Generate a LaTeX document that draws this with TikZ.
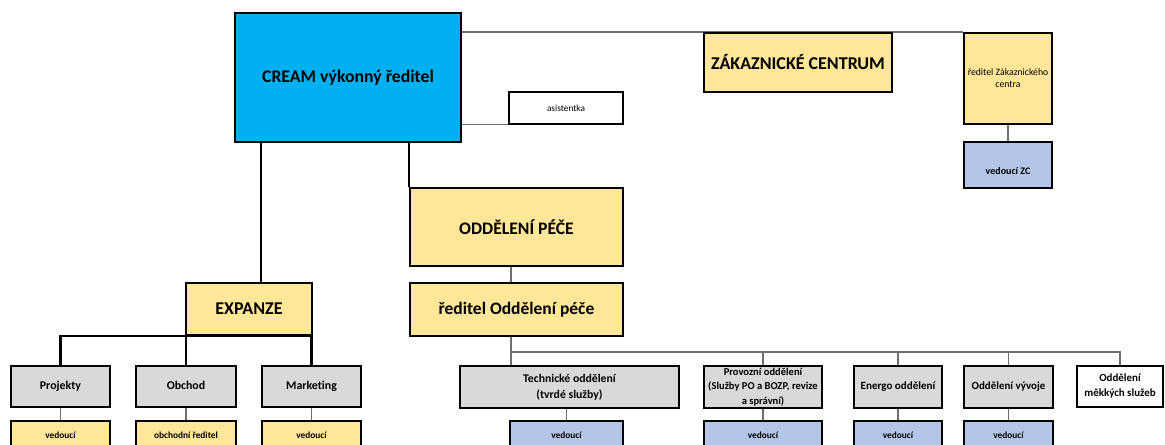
\documentclass[tikz,border=0pt]{standalone}
\usepackage{fontspec}
\setmainfont{Carlito}[Ligatures=NoCommon]
\usetikzlibrary{backgrounds}
\definecolor{cblue}{HTML}{00B0F0}
\definecolor{cyel}{HTML}{FFE699}
\definecolor{cgray}{HTML}{D9D9D9}
\definecolor{cltb}{HTML}{B4C6E7}
\definecolor{lgray}{HTML}{6E6E6E}
\tikzset{
  box/.style={draw=black, line width=1.5pt, inner sep=0pt, align=center},
  sz/.style 2 args={minimum width={#1*0.75pt}, minimum height={#2*0.75pt}},
  fb/.style 2 args={font=\fontsize{#1}{#2}\selectfont\bfseries},
  fr/.style 2 args={font=\fontsize{#1}{#2}\selectfont},
  blk/.style={draw=black, line width=1.6pt},
  gry/.style={draw=lgray, line width=0.9pt},
  even/.style={text height=6.4pt, text depth=1.9pt},
}
\begin{document}
\begin{tikzpicture}[x=0.75pt, y=-0.75pt]
\useasboundingbox (0,0) rectangle (1165,445);
\clip (0,0) rectangle (1165,445);
% top level
\node[box, fill=cblue, sz={226}{129}, fb={13.3pt}{16pt}] (cream) at (348,77.5) {CREAM výkonný ředitel};
\node[box, line width=1.2pt, fill=white, sz={114}{32}, fr={7pt}{8.5pt}] (asist) at (566,108) {asistentka};
\node[box, fill=cyel, sz={188}{59}, fb={13.5pt}{16pt}] (zc) at (798,62.5) {ZÁKAZNICKÉ CENTRUM};
\node[box, fill=cyel, sz={88}{91}, fr={7.3pt}{9pt}] (redzc) at (1008,78.5) {ředitel Zákaznického\\centra};
\node[box, fill=cltb, sz={88}{46}, fb={7.5pt}{9pt}] (vedzc) at (1008,165) {\raisebox{-7.5pt}[0pt][0pt]{vedoucí ZC}};
% care department
\node[box, fill=cyel, sz={213}{78}, fb={13.2pt}{15pt}] (pece) at (516.5,227) {ODDĚLENÍ PÉČE};
\node[box, fill=cyel, sz={213}{53}, fb={13.1pt}{15pt}] (redpece) at (516.5,309.5) {ředitel Oddělení péče};
% expansion
\node[box, fill=cyel, sz={126}{52}, fb={13.5pt}{16pt}] (expanze) at (249,309) {EXPANZE};
\node[box, fill=cgray, sz={99}{41}, fb={8.9pt}{11pt}, even] (projekty) at (60.5,386.5) {Projekty};
\node[box, fill=cgray, sz={100}{41}, fb={8.9pt}{11pt}, even] (obchod) at (186,386.5) {Obchod};
\node[box, fill=cgray, sz={99}{41}, fb={8.9pt}{11pt}, even] (marketing) at (311.5,386.5) {Marketing};
\node[box, fill=cyel, sz={99}{28}, fb={7pt}{9pt}] (ved1) at (60.5,435) {vedoucí};
\node[box, fill=cyel, sz={100}{28}, fb={7pt}{9pt}] (ved2) at (186,435) {obchodní ředitel};
\node[box, fill=cyel, sz={99}{28}, fb={7pt}{9pt}] (ved3) at (311.5,435) {vedoucí};
% departments
\node[box, fill=cgray, sz={219}{42}, fb={8.8pt}{12pt}] (technicke) at (569.5,387) {Technické oddělení\\(tvrdé služby)};
\node[box, fill=cgray, sz={118}{42}, fb={7.9pt}{10.9pt}] (provozni) at (763,387) {Provozní oddělení\\(Služby PO a BOZP, revize\\a správní)};
\node[box, fill=cgray, sz={88}{42}, fb={8.3pt}{11pt}, even] (energo) at (898,387) {Energo oddělení};
\node[box, fill=cgray, sz={89}{42}, fb={8.2pt}{11pt}, even] (vyvoj) at (1008.5,387) {Oddělení vývoje};
\node[box, fill=white, sz={86}{41}, fb={8.2pt}{11.25pt}] (mekke) at (1120,386.5) {Oddělení\\měkkých služeb};
\node[box, fill=cltb, sz={113}{28}, fb={7pt}{9pt}] (vedT) at (566.5,435) {vedoucí};
\node[box, fill=cltb, sz={118}{28}, fb={7pt}{9pt}] (vedP) at (763,435) {vedoucí};
\node[box, fill=cltb, sz={88}{28}, fb={7pt}{9pt}] (vedE) at (898,435) {vedoucí};
\node[box, fill=cltb, sz={89}{28}, fb={7pt}{9pt}] (vedV) at (1008.5,435) {vedoucí};
\coordinate (busL) at (511,352);
\begin{pgfonlayer}{background}
\draw[gry] (cream.east |- zc.north) -- (redzc.north west);
\draw[gry] (cream.east |- asist.south) -- (asist.south west);
\draw[gry] (redzc) -- (vedzc);
\draw[blk] (cream.south -| marketing.west) -- (expanze.north -| marketing.west);
\draw[blk] (cream.south -| pece.west) -- (pece.north west);
\draw[blk] (projekty.north) -- (expanze.south -| projekty.north) -- (expanze.south -| marketing.north) -- (marketing.north);
\draw[blk] (expanze.south -| obchod.north) -- (obchod.north);
\draw[gry] (projekty) -- (ved1);
\draw[gry] (obchod) -- (ved2);
\draw[gry] (marketing) -- (ved3);
\draw[gry] (pece.south -| busL) -- (technicke.north -| busL);
\draw[gry] (busL) -- (busL -| mekke.north) -- (mekke.north);
\draw[gry] (busL -| provozni.north) -- (provozni.north);
\draw[gry] (busL -| energo.north) -- (energo.north);
\draw[gry] (busL -| vyvoj.north) -- (vyvoj.north);
\draw[gry] (technicke.south -| vedT.north) -- (vedT.north);
\draw[gry] (provozni) -- (vedP);
\draw[gry] (energo) -- (vedE);
\draw[gry] (vyvoj) -- (vedV);
\end{pgfonlayer}
\end{tikzpicture}
\end{document}
